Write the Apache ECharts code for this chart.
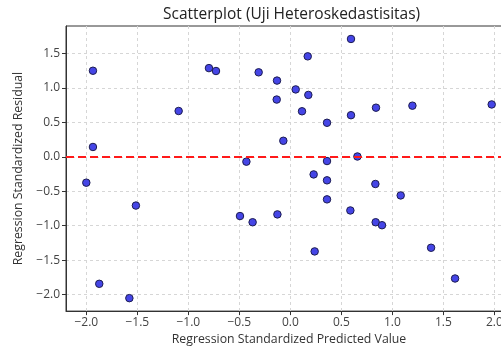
<!DOCTYPE html>
<html><head><meta charset="utf-8">
<script src="https://cdn.jsdelivr.net/npm/echarts@6/dist/echarts.min.js"></script>
<style>html,body{margin:0;padding:0;background:#fff;overflow:hidden;width:501px;height:350px}#c{width:512px;height:350px}</style>
</head><body><div id="c"></div>
<script>
var predicted = [-1.935,-0.798,-0.729,-0.311,-0.131,-0.134,-1.095,-1.935,-0.431,-0.069,
  0.594,0.170,0.052,0.176,0.114,0.594,0.839,1.196,1.973,0.359,
  0.359,0.657,-2.0,-1.514,-0.494,-0.370,-0.127,-1.873,-1.578,0.228,
  0.359,0.833,0.359,0.588,1.081,0.836,0.898,1.379,0.238,1.614];
var residual = [1.248,1.286,1.244,1.225,1.105,0.830,0.664,0.142,-0.071,0.232,
  1.709,1.457,0.977,0.897,0.660,0.603,0.712,0.741,0.759,0.493,
  -0.062,0.004,-0.376,-0.708,-0.860,-0.950,-0.836,-1.843,-2.051,-0.256,
  -0.342,-0.395,-0.618,-0.779,-0.561,-0.950,-0.993,-1.320,-1.373,-1.766];
var xTicks = [-2.0,-1.5,-1.0,-0.5,0.0,0.5,1.0,1.5,2.0];
var yTicks = [-2.0,-1.5,-1.0,-0.5,0.0,0.5,1.0,1.5];
var refLine = 0;

var font = 'Open Sans';
function fmt(v){ var s = Math.abs(v).toFixed(1); return (v < 0 ? '\u2212' : '') + s; }
var pts = predicted.map(function(x,i){ return [x, residual[i]]; });
var chart = echarts.init(document.getElementById('c'));
chart.setOption({
  animation:false,
  title:{text:'Scatterplot (Uji Heteroskedastisitas)', left:158, top:2,
    textStyle:{fontFamily:font, fontSize:15.5, fontWeight:'normal', color:'#222'}},
  grid:{left:66, top:26, right:0, bottom:35, show:true, borderColor:'#333', borderWidth:1, backgroundColor:'transparent'},
  xAxis:{type:'value', min:-2.199, max:2.172,
    name:'Regression Standardized Predicted Value', nameLocation:'middle', nameGap:21,
    nameTextStyle:{fontFamily:font, fontSize:12.3, color:'#333'},
    axisLine:{show:true, onZero:false, lineStyle:{color:'#333'}},
    axisTick:{show:true, length:4, lineStyle:{color:'#333'}, customValues:xTicks},
    axisLabel:{fontFamily:font, fontSize:12, color:'#444', margin:5, customValues:xTicks, formatter:fmt},
    splitLine:{show:true, lineStyle:{color:'#d6d6d6', type:[3,3], width:1}}},
  yAxis:{type:'value', min:-2.239, max:1.897,
    name:'Regression Standardized Residual', nameLocation:'middle', nameGap:42,
    nameTextStyle:{fontFamily:font, fontSize:12.3, color:'#333'},
    axisLine:{show:true, onZero:false, lineStyle:{color:'#333'}},
    axisTick:{show:true, length:4, lineStyle:{color:'#333'}, customValues:yTicks},
    axisLabel:{fontFamily:font, fontSize:12, color:'#444', margin:6, customValues:yTicks, formatter:fmt},
    splitLine:{show:true, lineStyle:{color:'#d6d6d6', type:[3,3], width:1}}},
  series:[{type:'scatter', data:pts, symbolSize:7.5,
    itemStyle:{color:'#4545e6', borderColor:'#1c1c50', borderWidth:1, opacity:1},
    markLine:{silent:true, symbol:'none', label:{show:false},
      lineStyle:{color:'#ff1a1a', type:[8,4], width:2},
      data:[{yAxis:refLine}]}}]
});
</script></body></html>
